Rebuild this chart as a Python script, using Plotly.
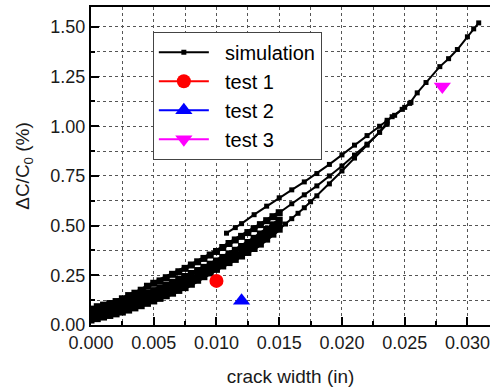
import plotly.graph_objects as go

# ---- data -------------------------------------------------------------
band_x = [0.0, 0.0005, 0.001, 0.0015, 0.002, 0.0025, 0.003, 0.0035, 0.004, 0.0045,
          0.005, 0.0055, 0.006, 0.0065, 0.007, 0.0075, 0.008, 0.0085, 0.009, 0.0095,
          0.010, 0.0105, 0.011, 0.0115, 0.012, 0.0125, 0.013, 0.0135, 0.014, 0.0145,
          0.015]
band1_y = [0.025, 0.032, 0.040, 0.048, 0.056, 0.065, 0.075, 0.086, 0.097, 0.109,
           0.121, 0.134, 0.147, 0.160, 0.174, 0.188, 0.205, 0.225, 0.243, 0.262,
           0.280, 0.297, 0.314, 0.330, 0.347, 0.365, 0.385, 0.407, 0.432, 0.457,
           0.482]
band2_y = [0.042, 0.051, 0.059, 0.067, 0.075, 0.086, 0.097, 0.109, 0.121, 0.134,
           0.147, 0.160, 0.174, 0.188, 0.202, 0.216, 0.230, 0.245, 0.261, 0.277,
           0.293, 0.310, 0.328, 0.346, 0.365, 0.386, 0.408, 0.431, 0.455, 0.479,
           0.503]
band3_y = [0.060, 0.070, 0.078, 0.086, 0.095, 0.107, 0.120, 0.133, 0.146, 0.160,
           0.173, 0.187, 0.201, 0.215, 0.230, 0.244, 0.259, 0.274, 0.290, 0.306,
           0.322, 0.340, 0.358, 0.376, 0.395, 0.415, 0.436, 0.458, 0.481, 0.504,
           0.527]
band4_y = [0.080, 0.092, 0.100, 0.108, 0.118, 0.132, 0.148, 0.160, 0.175, 0.195,
           0.210, 0.222, 0.238, 0.255, 0.268, 0.285, 0.302, 0.318, 0.335, 0.352,
           0.370, 0.390, 0.410, 0.428, 0.446, 0.465, 0.485, 0.505, 0.525, 0.545,
           0.565]

lower_x = [0.015, 0.0155, 0.016, 0.0165, 0.017, 0.0175, 0.018, 0.019, 0.020, 0.021,
           0.022, 0.023, 0.0236]
lower_y = [0.482, 0.508, 0.535, 0.562, 0.590, 0.620, 0.650, 0.710, 0.775, 0.840,
           0.905, 0.970, 1.010]

middle_x = [0.015, 0.016, 0.017, 0.018, 0.019, 0.020, 0.021, 0.022, 0.023, 0.0236]
middle_y = [0.565, 0.610, 0.655, 0.700, 0.750, 0.800, 0.855, 0.910, 0.970, 1.020]

upper_x = [0.0108, 0.0115, 0.012, 0.013, 0.014, 0.015, 0.016, 0.017, 0.018, 0.019,
           0.020, 0.021, 0.022, 0.023, 0.024, 0.025, 0.0255]
upper_y = [0.462, 0.490, 0.510, 0.555, 0.598, 0.640, 0.680, 0.720, 0.762, 0.808,
           0.856, 0.905, 0.953, 1.000, 1.048, 1.095, 1.120]

top_x = [0.0236, 0.0242, 0.0248, 0.0254, 0.0260, 0.0267, 0.0278, 0.0285, 0.0292,
         0.0300, 0.0305, 0.0309]
top_y = [1.030, 1.055, 1.085, 1.115, 1.168, 1.220, 1.300, 1.340, 1.386,
         1.450, 1.490, 1.520]

test1_x, test1_y = [0.010], [0.222]
test2_x, test2_y = [0.012], [0.122]
test3_x, test3_y = [0.028], [1.200]

series_names = ["simulation", "test 1", "test 2", "test 3"]
x_ticks = [0.000, 0.005, 0.010, 0.015, 0.020, 0.025, 0.030]
y_ticks = [0.00, 0.25, 0.50, 0.75, 1.00, 1.25, 1.50]


def join(branches):
    xs, ys = [], []
    for bx, by in branches:
        xs += list(bx) + [None]
        ys += list(by) + [None]
    return xs, ys


band_xs, band_ys = join([(band_x, band1_y), (band_x, band2_y),
                         (band_x, band3_y), (band_x, band4_y)])
sim_xs, sim_ys = join([(lower_x, lower_y), (middle_x, middle_y),
                       (upper_x, upper_y), (top_x, top_y)])

FONT = "Liberation Sans, Arial, sans-serif"
TXT = "#1a1a1a"
PAD = "\u00a0\u00a0"

fig = go.Figure()
fig.add_trace(go.Scatter(
    x=sim_xs, y=sim_ys, mode="lines+markers", name=PAD + series_names[0],
    legendgroup="sim",
    line=dict(color="black", width=2),
    marker=dict(symbol="square", size=5, color="black"),
))
fig.add_trace(go.Scatter(
    x=band_xs, y=band_ys, mode="lines+markers", name=series_names[0],
    legendgroup="sim", showlegend=False,
    line=dict(color="black", width=4),
    marker=dict(symbol="square", size=7, color="black"),
))
fig.add_trace(go.Scatter(
    x=test1_x, y=test1_y, mode="lines+markers", name=PAD + series_names[1],
    line=dict(color="#ff0000", width=2),
    marker=dict(symbol="circle", size=14, color="#ff0000"),
))
fig.add_trace(go.Scatter(
    x=test2_x, y=test2_y, mode="lines+markers", name=PAD + series_names[2],
    line=dict(color="#0000ff", width=2),
    marker=dict(symbol="triangle-up", size=15, color="#0000ff"),
))
fig.add_trace(go.Scatter(
    x=test3_x, y=test3_y, mode="lines+markers", name=PAD + series_names[3],
    line=dict(color="#ff00ff", width=2),
    marker=dict(symbol="triangle-down", size=15, color="#ff00ff"),
))

axis_common = dict(
    showline=True, linecolor="black", linewidth=2, mirror=True,
    ticks="inside", ticklen=8, tickwidth=2, tickcolor="black",
    showgrid=True, gridcolor="#555555", gridwidth=1, griddash="dot",
    zeroline=False,
    tickfont=dict(family=FONT, size=18, color=TXT),
)

fig.update_xaxes(
    range=[0, 0.0318], tickvals=x_ticks, ticktext=[f"{v:.3f}" for v in x_ticks],
    minor=dict(dtick=0.0025, tick0=0, ticks="inside", ticklen=4, tickwidth=2,
               tickcolor="black", showgrid=True, gridcolor="#555555",
               griddash="dot", gridwidth=1),
    title=dict(text="crack width (in)", font=dict(family=FONT, size=19, color=TXT),
               standoff=18),
    **axis_common,
)
fig.update_yaxes(
    range=[0, 1.6], tickvals=y_ticks, ticktext=[f"{v:.2f}" for v in y_ticks],
    minor=dict(dtick=0.125, tick0=0, ticks="inside", ticklen=4, tickwidth=2,
               tickcolor="black", showgrid=True, gridcolor="#555555",
               griddash="dot", gridwidth=1),
    title=dict(text="\u0394C/C<sub>0</sub> (%)", font=dict(family=FONT, size=19, color=TXT),
               standoff=16),
    **axis_common,
)

fig.update_layout(
    width=490, height=389,
    margin=dict(l=91, r=0, t=7, b=64, autoexpand=False),
    plot_bgcolor="white", paper_bgcolor="white",
    showlegend=True,
    legend=dict(
        x=0.155, y=0.922, xanchor="left", yanchor="top",
        bgcolor="white", bordercolor="#444444", borderwidth=1,
        font=dict(family=FONT, size=20, color="black"),
        itemwidth=50, tracegroupgap=0,
    ),
)

fig.write_html("out.html", config={"displayModeBar": False},
               post_script="document.body.style.margin='0';")
